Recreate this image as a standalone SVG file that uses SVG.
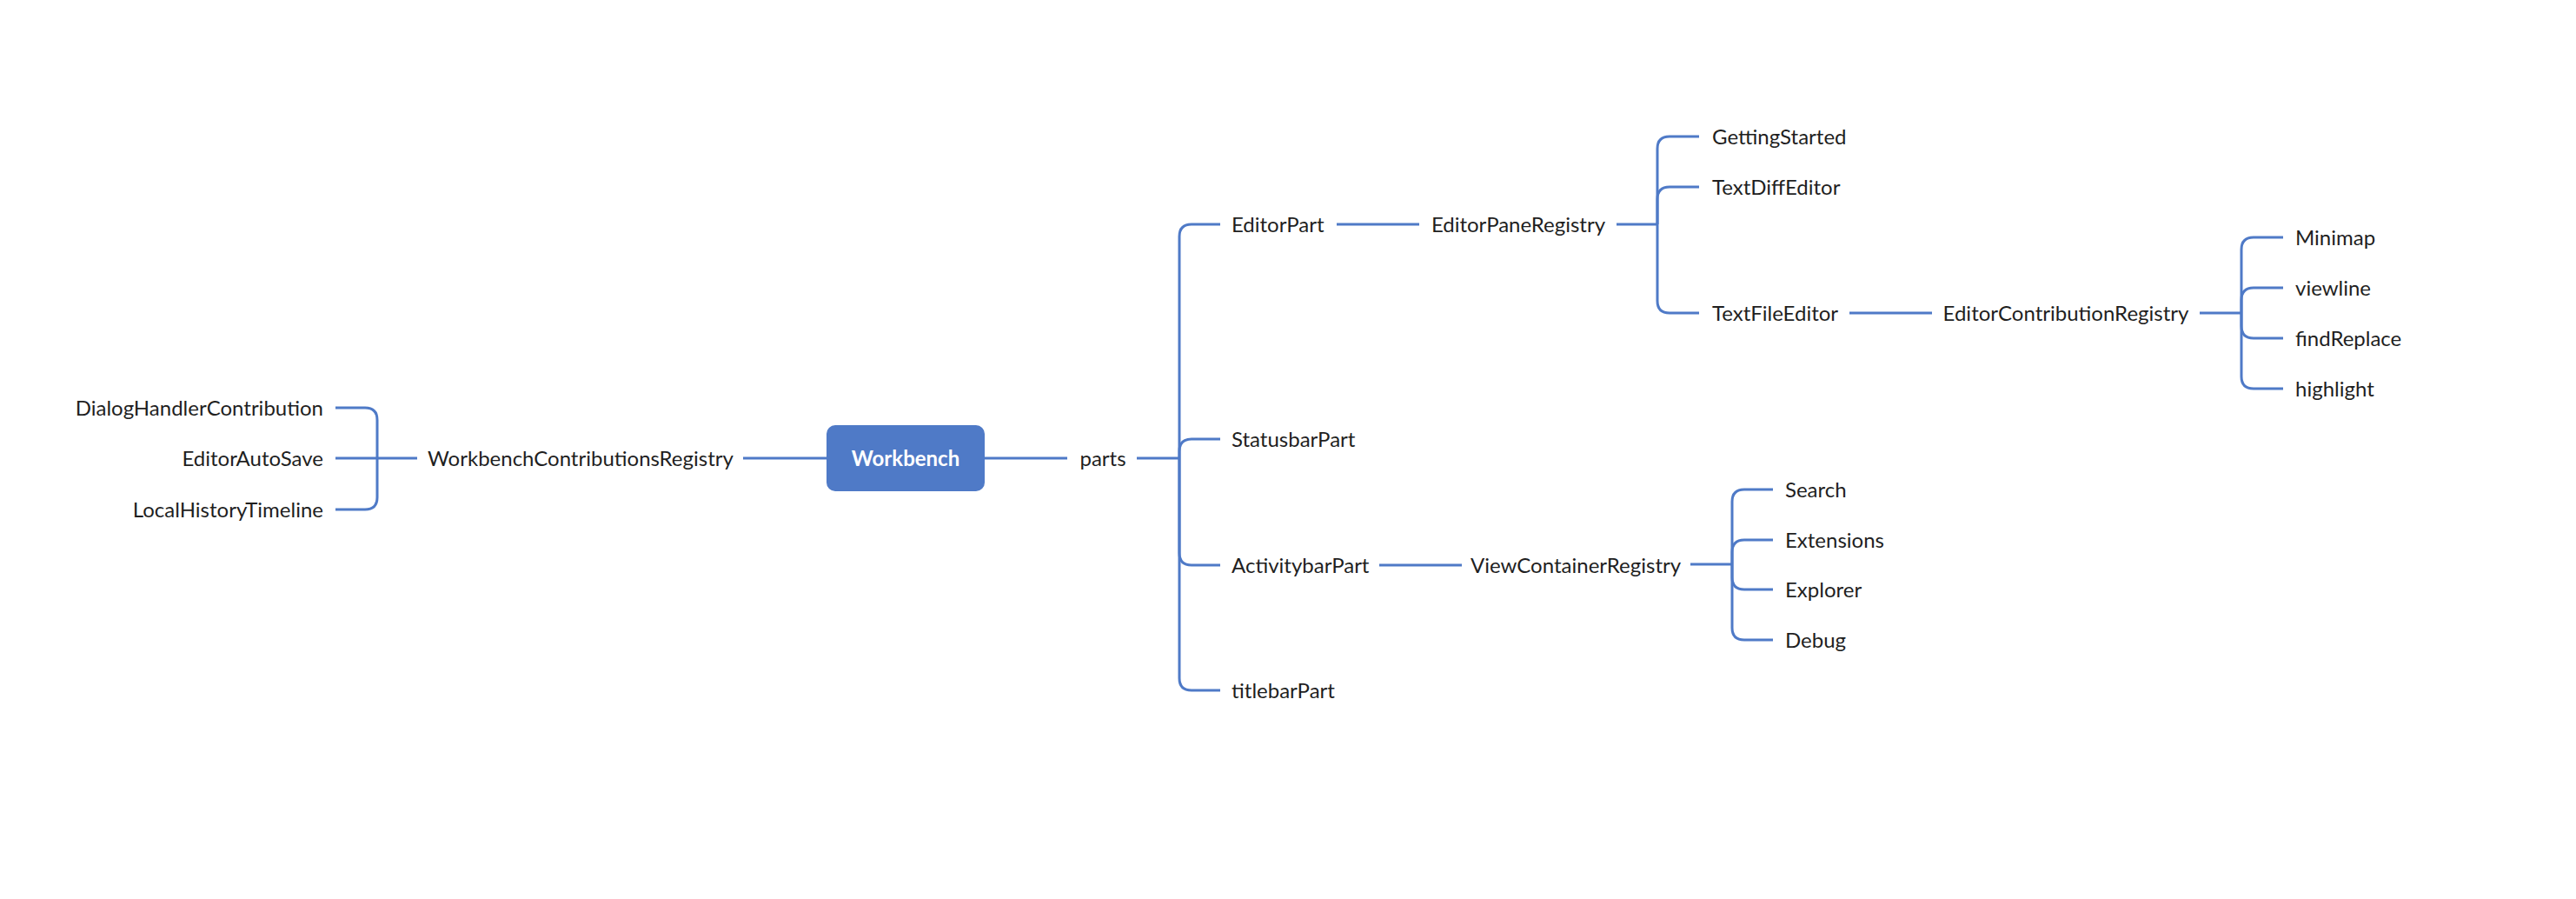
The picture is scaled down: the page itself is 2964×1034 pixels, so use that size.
<svg xmlns="http://www.w3.org/2000/svg" width="2964" height="1034" viewBox="0 0 2964 1034">
<style>
.c{fill:none;stroke:#4F7AC7;stroke-width:3;stroke-linecap:butt}
.t{font-family:Lato,"Noto Sans",sans-serif;font-size:24px;fill:#1f1f1f}
.m{text-anchor:middle}
.e{text-anchor:end}
.root{font-family:Lato,"Noto Sans",sans-serif;font-size:24px;font-weight:bold;fill:#fff;text-anchor:middle}
</style>
<rect width="2964" height="1034" fill="#fff"/>
<g id="connectors">
<path class="c" d="M951 527H855"/>
<path class="c" d="M480 527H434"/>
<path class="c" d="M434 527V483Q434 469 420 469H386"/>
<path class="c" d="M434 527H386"/>
<path class="c" d="M434 527V572Q434 586 420 586H386"/>
<path class="c" d="M1133 527H1228"/>
<path class="c" d="M1308 527H1357"/>
<path class="c" d="M1357 527V272Q1357 258 1371 258H1404"/>
<path class="c" d="M1357 527V519Q1357 505 1371 505H1404"/>
<path class="c" d="M1357 527V636Q1357 650 1371 650H1404"/>
<path class="c" d="M1357 527V780Q1357 794 1371 794H1404"/>
<path class="c" d="M1538 258H1633"/>
<path class="c" d="M1860 258H1907"/>
<path class="c" d="M1907 258V171Q1907 157 1921 157H1955"/>
<path class="c" d="M1907 258V229Q1907 215 1921 215H1955"/>
<path class="c" d="M1907 258V346Q1907 360 1921 360H1955"/>
<path class="c" d="M2128 360H2223"/>
<path class="c" d="M2531 360H2579"/>
<path class="c" d="M2579 360V287Q2579 273 2593 273H2627"/>
<path class="c" d="M2579 360V345Q2579 331 2593 331H2627"/>
<path class="c" d="M2579 360V375Q2579 389 2593 389H2627"/>
<path class="c" d="M2579 360V433Q2579 447 2593 447H2627"/>
<path class="c" d="M1587 650H1682"/>
<path class="c" d="M1945 649H1993"/>
<path class="c" d="M1993 649V577Q1993 563 2007 563H2040"/>
<path class="c" d="M1993 649V635Q1993 621 2007 621H2040"/>
<path class="c" d="M1993 649V664Q1993 678 2007 678H2040"/>
<path class="c" d="M1993 649V722Q1993 736 2007 736H2040"/>
</g>
<g id="workbench">
<rect x="951" y="489" width="182" height="76" rx="10" fill="#4F7AC7"/>
<text class="root" x="1042" y="536">Workbench</text>
</g>
<g id="wcr"><text class="t m" x="668" y="536">WorkbenchContributionsRegistry</text></g>
<g id="dialog"><text class="t e" x="372" y="478">DialogHandlerContribution</text></g>
<g id="autosave"><text class="t e" x="372" y="536">EditorAutoSave</text></g>
<g id="localhistory"><text class="t e" x="372" y="595">LocalHistoryTimeline</text></g>
<g id="parts"><text class="t m" x="1269" y="536">parts</text></g>
<g id="editorpart"><text class="t" x="1417" y="267">EditorPart</text></g>
<g id="statusbar"><text class="t" x="1417" y="514">StatusbarPart</text></g>
<g id="activitybar"><text class="t" x="1417" y="659">ActivitybarPart</text></g>
<g id="titlebar"><text class="t" x="1417" y="803">titlebarPart</text></g>
<g id="epr"><text class="t m" x="1747" y="267">EditorPaneRegistry</text></g>
<g id="gettingstarted"><text class="t" x="1970" y="166">GettingStarted</text></g>
<g id="textdiff"><text class="t" x="1970" y="224">TextDiffEditor</text></g>
<g id="textfile"><text class="t" x="1970" y="369">TextFileEditor</text></g>
<g id="ecr"><text class="t m" x="2377" y="369">EditorContributionRegistry</text></g>
<g id="minimap"><text class="t" x="2641" y="282">Minimap</text></g>
<g id="viewline"><text class="t" x="2641" y="340">viewline</text></g>
<g id="findreplace"><text class="t" x="2641" y="398">findReplace</text></g>
<g id="highlight"><text class="t" x="2641" y="456">highlight</text></g>
<g id="vcr"><text class="t m" x="1813" y="659">ViewContainerRegistry</text></g>
<g id="search"><text class="t" x="2054" y="572">Search</text></g>
<g id="extensions"><text class="t" x="2054" y="630">Extensions</text></g>
<g id="explorer"><text class="t" x="2054" y="687">Explorer</text></g>
<g id="debug"><text class="t" x="2054" y="745">Debug</text></g>
</svg>
